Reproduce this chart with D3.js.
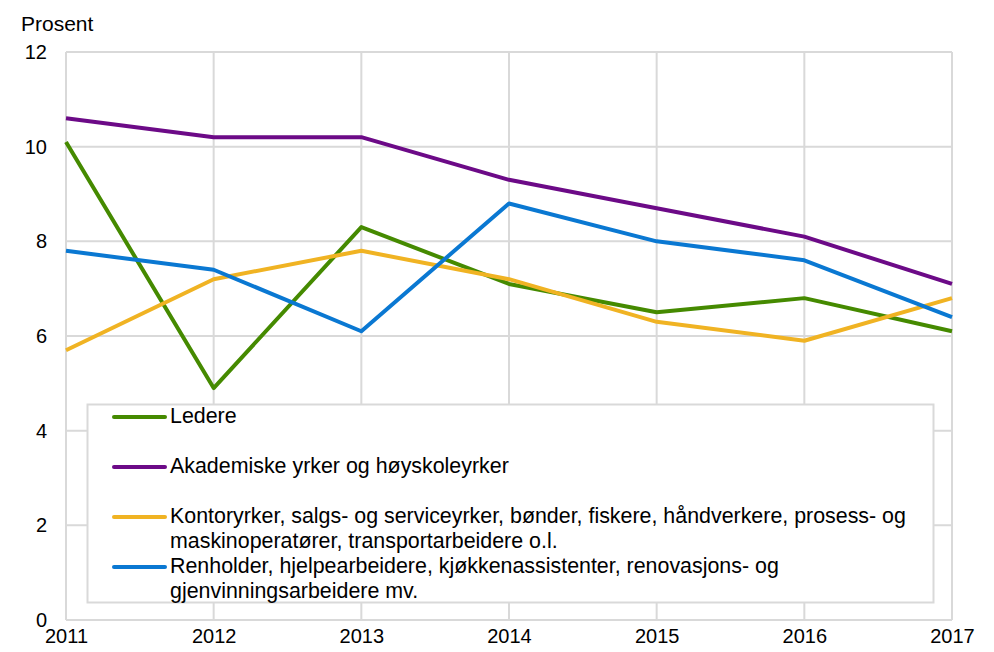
<!DOCTYPE html>
<html>
  <head>
    <meta charset="utf-8">
    <title>Prosent etter yrke</title>
    <style>
      body { margin: 0; background: #fff; }
      text { font-family: "Liberation Sans", Arial, sans-serif; fill: #000; }
    </style>
  </head>
  <body>
    <div id="chart"></div>
    <script src="https://d3js.org/d3.v7.min.js"></script>
    <script>
      const years = [2011, 2012, 2013, 2014, 2015, 2016, 2017];
      const yTicks = [0, 2, 4, 6, 8, 10, 12];

      const ledere = [10.1, 4.9, 8.3, 7.1, 6.5, 6.8, 6.1];
      const akademiske = [10.6, 10.2, 10.2, 9.3, 8.7, 8.1, 7.1];
      const kontor = [5.7, 7.2, 7.8, 7.2, 6.3, 5.9, 6.8];
      const renholder = [7.8, 7.4, 6.1, 8.8, 8.0, 7.6, 6.4];

      const seriesNames = [
        ['Ledere'],
        ['Akademiske yrker og høyskoleyrker'],
        ['Kontoryrker, salgs- og serviceyrker, bønder, fiskere, håndverkere, prosess- og',
         'maskinoperatører, transportarbeidere o.l.'],
        ['Renholder, hjelpearbeidere, kjøkkenassistenter, renovasjons- og',
         'gjenvinningsarbeidere mv.']
      ];
      const seriesColors = ['#458a00', '#6c0a87', '#f0b323', '#0a78d2'];
      const seriesValues = [ledere, akademiske, kontor, renholder];

      const W = 994, H = 652;
      const margin = {top: 52, right: 42, bottom: 32, left: 66};
      const width = W - margin.left - margin.right,
            height = H - margin.top - margin.bottom;

      const svg = d3.select('#chart')
        .append('svg')
        .attr('width', W)
        .attr('height', H);

      const g = svg.append('g')
        .attr('transform', `translate(${margin.left}, ${margin.top})`);

      const x = d3.scaleLinear()
        .domain([2011, 2017])
        .range([0, width]);

      const y = d3.scaleLinear()
        .domain([0, 12])
        .range([height, 0]);

      // grid
      g.append('g').selectAll('line')
        .data(yTicks)
        .enter()
        .append('line')
        .attr('x1', 0).attr('x2', width)
        .attr('y1', d => y(d)).attr('y2', d => y(d))
        .attr('stroke', '#d9d9d9')
        .attr('stroke-width', 2);

      g.append('g').selectAll('line')
        .data(years)
        .enter()
        .append('line')
        .attr('x1', d => x(d)).attr('x2', d => x(d))
        .attr('y1', 0).attr('y2', height)
        .attr('stroke', '#d9d9d9')
        .attr('stroke-width', 2);

      // axes
      const yAxis = g.append('g')
        .call(d3.axisLeft(y).tickValues(yTicks).tickSize(0).tickPadding(19));
      yAxis.select('.domain').remove();
      yAxis.selectAll('text')
        .style('font-size', '20px')
        .attr('fill', '#000');

      const xAxis = g.append('g')
        .attr('transform', `translate(0, ${height})`)
        .call(d3.axisBottom(x).tickValues(years).tickFormat(d3.format('d')).tickSize(0).tickPadding(9));
      xAxis.select('.domain').remove();
      xAxis.selectAll('text')
        .style('font-size', '20px')
        .attr('fill', '#000');

      svg.append('text')
        .attr('x', 21)
        .attr('y', 31)
        .style('font-size', '21px')
        .text('Prosent');

      // lines
      const line = d3.line()
        .x((d, i) => x(years[i]))
        .y(d => y(d));

      g.append('g').selectAll('path')
        .data(seriesValues)
        .enter()
        .append('path')
        .attr('d', d => line(d))
        .attr('fill', 'none')
        .attr('stroke', (d, i) => seriesColors[i])
        .attr('stroke-width', 4)
        .attr('stroke-linejoin', 'round');

      // legend
      const legend = svg.append('g');

      legend.append('rect')
        .attr('x', 87.5)
        .attr('y', 404.5)
        .attr('width', 846)
        .attr('height', 198)
        .attr('fill', '#fff')
        .attr('stroke', '#d9d9d9')
        .attr('stroke-width', 2);

      const rowY = [417, 467, 517, 567];

      for (let i = 0; i < seriesNames.length; i++) {
        let item = legend.append('g');

        item.append('line')
          .attr('x1', 114)
          .attr('x2', 165)
          .attr('y1', rowY[i])
          .attr('y2', rowY[i])
          .attr('stroke', seriesColors[i])
          .attr('stroke-width', 4)
          .attr('stroke-linecap', 'round');

        seriesNames[i].forEach((t, j) => {
          item.append('text')
            .attr('x', 170)
            .attr('y', rowY[i] + j * 25)
            .attr('dominant-baseline', 'middle')
            .style('font-size', '21.4px')
            .text(t);
        });
      }
    </script>
  </body>
</html>
